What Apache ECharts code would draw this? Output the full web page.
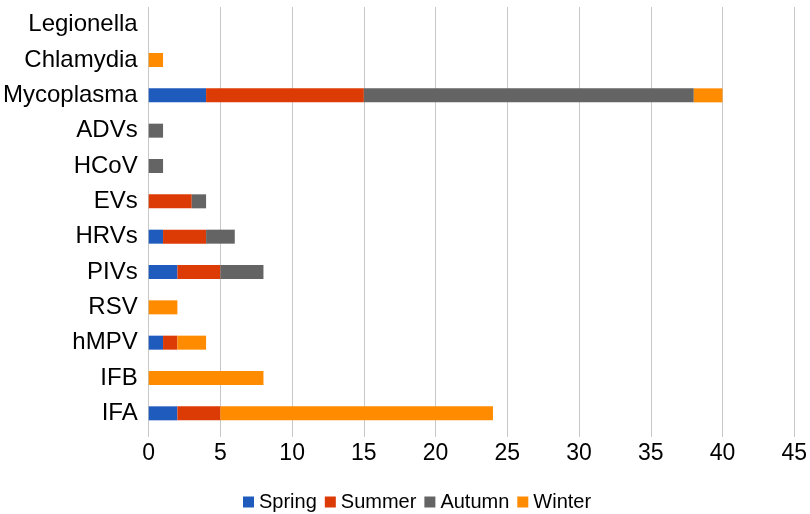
<!DOCTYPE html>
<html><head><meta charset="utf-8">
<script src="https://cdn.jsdelivr.net/npm/echarts@6/dist/echarts.min.js"></script>
<style>html,body{margin:0;padding:0;background:#fff}#c{width:810px;height:514px}</style>
</head><body><div id="c"></div>
<script>
var categories = ['IFA','IFB','hMPV','RSV','PIVs','HRVs','EVs','HCoV','ADVs','Mycoplasma','Chlamydia','Legionella'];
var spring = [2,0,1,0,2,1,0,0,0,4,0,0];
var summer = [3,0,1,0,3,3,3,0,0,11,0,0];
var autumn = [0,0,0,0,3,2,1,1,1,23,0,0];
var winter = [19,8,2,2,0,0,0,0,0,2,1,0];
var xTicks = [0,5,10,15,20,25,30,35,40,45];
var seriesNames = ['Spring','Summer','Autumn','Winter'];
var colors = ['#1f5bbd','#dc3b06','#646464','#ff8b00'];
var dataSets = [spring, summer, autumn, winter];
var font = '"Liberation Sans", Arial, sans-serif';
var chart = echarts.init(document.getElementById('c'), null, {renderer:'canvas'});
chart.setOption({
  animation:false,
  backgroundColor:'#fff',
  grid:{left:148,right:10,top:7,bottom:83,containLabel:false},
  legend:{
    bottom:2, left:243, padding:0, itemWidth:11, itemHeight:11, itemGap:8,
    icon:'rect',
    textStyle:{fontFamily:font,fontSize:20,color:'#000',padding:[0,0,0,0]},
    data:seriesNames
  },
  xAxis:{
    type:'value', min:xTicks[0], max:xTicks[xTicks.length-1], interval:5,
    axisLine:{show:false},
    axisTick:{show:true,length:6,lineStyle:{color:'#c8c8c8'}},
    splitLine:{show:true,lineStyle:{color:'#c8c8c8',width:1}},
    axisLabel:{fontFamily:font,fontSize:23,color:'#000',margin:11}
  },
  yAxis:{
    type:'category', data:categories,
    axisLine:{show:false}, axisTick:{show:false},
    axisLabel:{fontFamily:font,fontSize:24,color:'#000',margin:11}
  },
  series: seriesNames.map(function(n,i){
    return {name:n,type:'bar',stack:'total',barWidth:14,
      itemStyle:{color:colors[i]},data:dataSets[i]};
  })
});
</script></body></html>
